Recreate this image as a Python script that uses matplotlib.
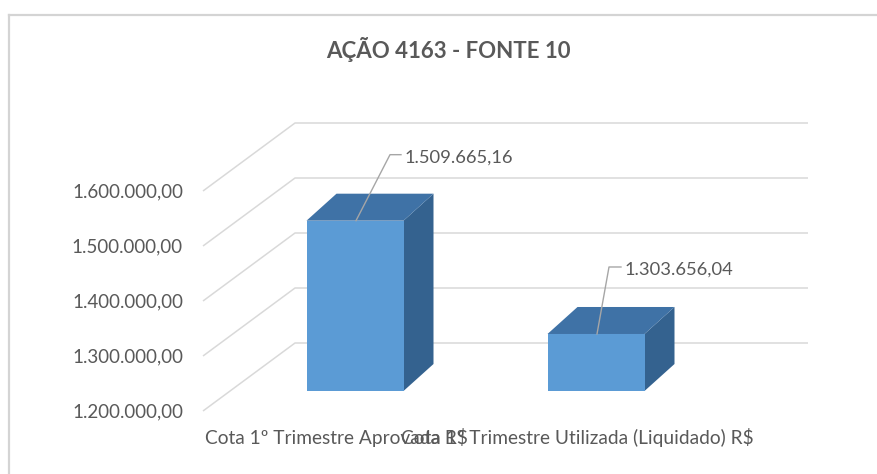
import matplotlib
matplotlib.use("Agg")
import matplotlib.pyplot as plt
from matplotlib.patches import Polygon
from matplotlib.lines import Line2D

# data
title = "AÇÃO 4163 - FONTE 10"
categories = ["Cota 1º Trimestre Aprovada R$", "Cota 1º Trimestre Utilizada (Liquidado) R$"]
values = [1509665.16, 1303656.04]
value_labels = ["1.509.665,16", "1.303.656,04"]
y_ticks = [1200000, 1300000, 1400000, 1500000, 1600000]
y_tick_labels = ["1.200.000,00", "1.300.000,00", "1.400.000,00", "1.500.000,00", "1.600.000,00"]

# layout (pixel based, converted to data units)
W, H = 878, 474
PX_CAT = 241.0           # px per category step
PX_VAL = 55.0 / 100000   # px per value unit
X0_PX = 355.0            # px of category 0 (front face centre)
Y0_PX = 411.0            # px from top of y_ticks[0] on the front plane
Y_BASE = y_ticks[0]


def dx(px):
    return px / PX_CAT


def dy(px):
    return px / PX_VAL


TEXT = "#595959"
GRID = "#d9d9d9"
FRONT = "#5b9bd5"
TOP = "#3f72a6"
SIDE = "#34628f"
FONT = "Lato"

fig = plt.figure(figsize=(W / 100, H / 100), dpi=100)
ax = fig.add_axes([0, 0, 1, 1])
ax.set_xlim(-X0_PX / PX_CAT, (W - X0_PX) / PX_CAT)
ax.set_ylim(Y_BASE - dy(H - Y0_PX), Y_BASE + dy(Y0_PX))
ax.axis("off")

# chart frame
fig.add_artist(Line2D([9 / W, 9 / W], [0, 1 - 15 / H], color="#d4d4d4", lw=1.6))
fig.add_artist(Line2D([9 / W, 1], [1 - 15 / H, 1 - 15 / H], color="#d4d4d4", lw=1.6))

# walls / gridlines
left_x = dx(203 - X0_PX)
wall_dx, wall_dy = dx(92), dy(68)
right_x = dx(808 - X0_PX) - wall_dx
for t, lab in zip(y_ticks, y_tick_labels):
    ax.plot([left_x, left_x + wall_dx, right_x + wall_dx], [t, t + wall_dy, t + wall_dy],
            color=GRID, lw=1.1, solid_capstyle="butt", zorder=1)
    ax.text(left_x - dx(20), t - dy(1), lab, ha="right", va="center",
            fontsize=13.5, color=TEXT, family=FONT)

# bars
bar_w = dx(97)
bar_lift = dy(20)
bd_x, bd_y = dx(30), dy(27)
for i, v in enumerate(values):
    x1, x2 = i - bar_w / 2, i + bar_w / 2
    yb, yt = Y_BASE + bar_lift, v + bar_lift
    ax.add_patch(Polygon([(x2, yb), (x2, yt), (x2 + bd_x, yt + bd_y), (x2 + bd_x, yb + bd_y)],
                         closed=True, fc=SIDE, ec="none", zorder=3))
    ax.add_patch(Polygon([(x1, yt), (x2, yt), (x2 + bd_x, yt + bd_y), (x1 + bd_x, yt + bd_y)],
                         closed=True, fc=TOP, ec="none", zorder=3))
    ax.add_patch(Polygon([(x1, yb), (x2, yb), (x2, yt), (x1, yt)],
                         closed=True, fc=FRONT, ec="none", zorder=4))

# data labels with leader lines (knee offset px, horizontal px)
leaders = [(34, 66, 11), (12, 67, 12)]
for i, (v, lab) in enumerate(zip(values, value_labels)):
    sx, sy = i + dx(1), v + bar_lift
    kx, ky = sx + dx(leaders[i][0]), sy + dy(leaders[i][1])
    ex = kx + dx(leaders[i][2])
    ax.plot([sx, kx, ex], [sy, ky, ky], color="#a6a6a6", lw=1.0, zorder=5)
    ax.text(ex + dx(4), ky - dy(3), lab, ha="left", va="center",
            fontsize=13.2, color=TEXT, family=FONT, zorder=6)

# category labels
for i, c in enumerate(categories):
    ax.text(i - dx(19), Y_BASE - dy(27), c, ha="center", va="center",
            fontsize=13.8, color=TEXT, family=FONT)

ax.text(dx(448 - X0_PX), Y_BASE + dy(Y0_PX - 50), title, ha="center", va="center",
        fontsize=16, fontweight="bold", color=TEXT, family=FONT)

fig.savefig("out.png", dpi=100)
